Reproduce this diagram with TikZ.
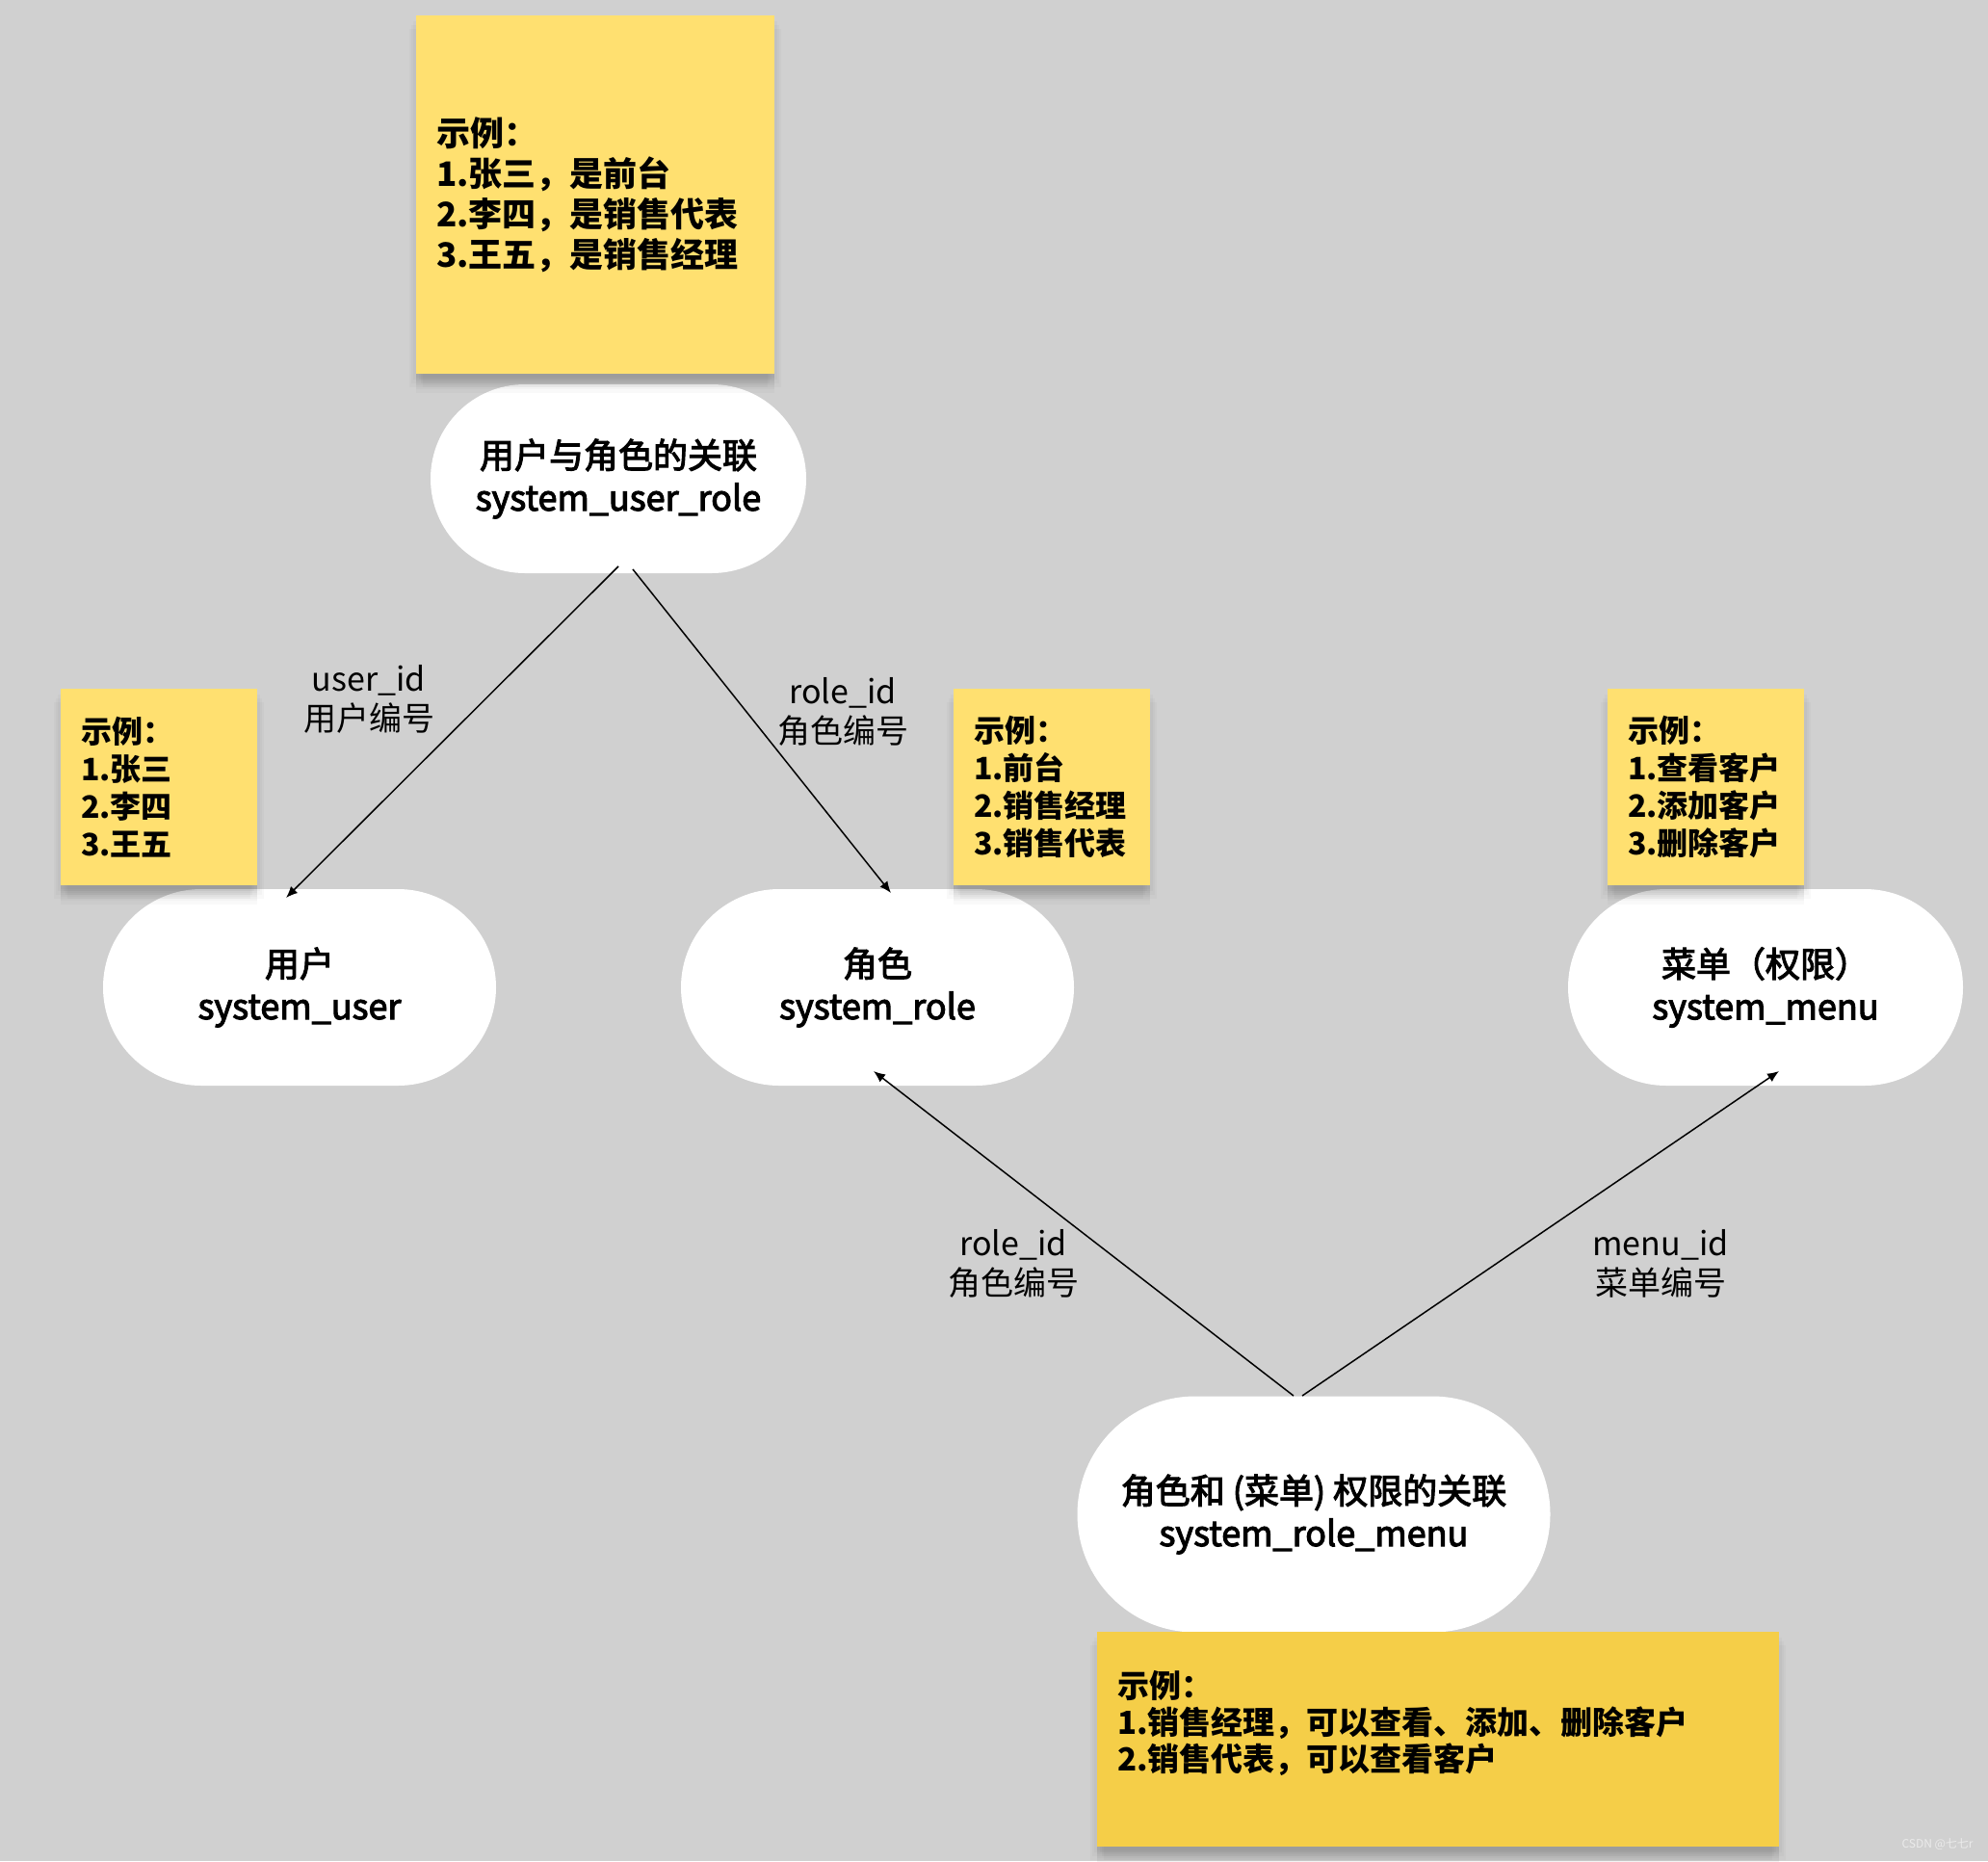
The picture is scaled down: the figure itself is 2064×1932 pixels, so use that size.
\documentclass[tikz,border=0pt]{standalone}
\usepackage{fontspec}
\setmainfont{Noto Sans CJK SC}
\newfontfamily\medfont{Noto Sans CJK SC}[FakeBold=3]
\usetikzlibrary{arrows.meta,calc}
\definecolor{bg}{HTML}{D0D0D0}
\definecolor{notey}{HTML}{FFE070}
\definecolor{notedark}{HTML}{F5CE48}
\tikzset{
  tbl/.style 2 args={fill=white, rounded corners=#2/2, minimum width=#1, minimum height=#2,
    align=center, inner sep=0pt, font=\medfont\fontsize{18pt}{22pt}\selectfont},
  sh/.style 2 args={preaction={fill=black, fill opacity=0.022, transform canvas={xshift=#1, yshift=#2}}},
  shad/.style={sh={0pt}{-2pt}, sh={0pt}{-4pt}, sh={0pt}{-6pt}, sh={0pt}{-8pt},
    sh={1.5pt}{-3pt}, sh={-1.5pt}{-3pt}, sh={2.5pt}{-5pt}, sh={-2.5pt}{-5pt}, sh={0pt}{-10pt},
    sh={3.5pt}{-7pt}, sh={-3.5pt}{-7pt}},
  notebox/.style 2 args={fill=notey, shad, minimum width=#1, minimum height=#2,
    text width=#1-21pt, align=left, inner xsep=10.5pt, inner ysep=0pt},
  smallnote/.style={notebox={102pt}{102pt}, font=\bfseries\fontsize{16pt}{19.5pt}\selectfont},
  lbl/.style={align=center, inner sep=0pt, font=\fontsize{17pt}{20.5pt}\selectfont},
  arr/.style={-{Latex[length=6pt,width=5pt]}, line width=0.75pt, black},
}
\begin{document}
\begin{tikzpicture}[x=0.5pt, y=-0.5pt]
\fill[bg] (0,0) rectangle (2064,1932);
\useasboundingbox (0,0) rectangle (2064,1932);

% tables
\node[tbl={195pt}{98pt}] (ur) at (642,497) {用户与角色的关联\\system\_user\_role};
\node[tbl={204pt}{102pt}] (user) at (311,1025) {用户\\system\_user};
\node[tbl={204pt}{102pt}] (role) at (911,1025) {角色\\system\_role};
\node[tbl={205pt}{102pt}] (menu) at (1833,1025) {菜单（权限）\\system\_menu};
\node[tbl={245.5pt}{122.5pt}] (rm) at (1364,1572) {角色和 (菜单) 权限的关联\\system\_role\_menu};

% notes
\node[notebox={186pt}{186pt}, font=\bfseries\fontsize{17.5pt}{21pt}\selectfont] (n0) at (618,202)
  {示例：\\1.张三，是前台\\2.李四，是销售代表\\3.王五，是销售经理};
\node[smallnote] (n1) at (165,817) {示例：\\1.张三\\2.李四\\3.王五};
\node[smallnote] (n2) at (1092,817) {示例：\\1.前台\\2.销售经理\\3.销售代表};
\node[smallnote] (n3) at (1771,817) {示例：\\1.查看客户\\2.添加客户\\3.删除客户};
\node[notebox={354pt}{111.5pt}, fill=notedark, font=\bfseries\fontsize{16.5pt}{19pt}\selectfont] (n4) at (1493,1805.5)
  {示例：\\1.销售经理，可以查看、添加、删除客户\\2.销售代表，可以查看客户\\\mbox{}};

% connectors
\draw[arr] ($(ur.center)+(0,91)$) -- ($(user.center)+(-14,-93)$);
\draw[arr] ($(ur.center)+(15,94)$) -- ($(role.center)+(14,-98)$);
\draw[arr] ($(rm.center)+(-21,-123)$) -- ($(role.center)+(-4,87)$);
\draw[arr] ($(rm.center)+(-12,-123)$) -- ($(menu.center)+(14,87)$);

% labels
\node[lbl] (l1) at (383,726) {user\_id\\用户编号};
\node[lbl] (l2) at (875,739) {role\_id\\角色编号};
\node[lbl] (l3) at (1052,1312) {role\_id\\角色编号};
\node[lbl] (l4) at (1724,1312) {menu\_id\\菜单编号};

% watermark
\node[anchor=east, inner sep=0pt, text=white!92!black, font=\fontsize{6pt}{7pt}\selectfont] (wm) at (2049,1915) {CSDN @七七r};
\end{tikzpicture}
\end{document}
